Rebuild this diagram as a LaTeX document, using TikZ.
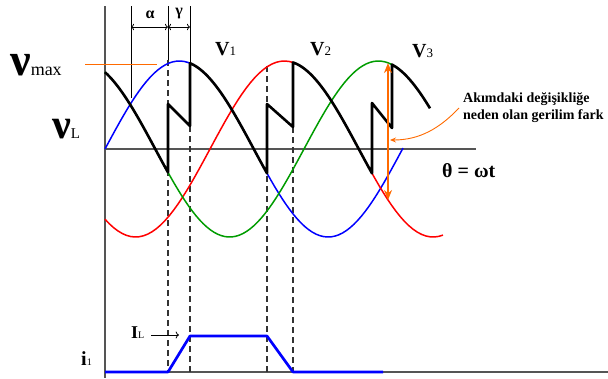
\documentclass[tikz,border=0pt]{standalone}
\usepackage{fontspec}
\setmainfont{Liberation Serif}
\usetikzlibrary{arrows.meta}
\definecolor{axisgray}{HTML}{555555}
\definecolor{vorange}{HTML}{FF6A00}
\definecolor{vgreen}{HTML}{009C00}
\tikzset{
  axis/.style={draw=axisgray, line width=1.3pt},
  guide/.style={draw=black!80, line width=1.2pt, dash pattern=on 6pt off 4pt},
  phase/.style={line width=1.5pt, samples=80},
  vout/.style={line width=2.6pt, line join=round},
  lbl/.style={anchor=base west, inner sep=0pt, font=\bfseries\fontsize{20}{20}\selectfont},
  note/.style={anchor=west, inner sep=0pt, align=left, font=\bfseries\fontsize{14}{17}\selectfont},
}
\begin{document}
\begin{tikzpicture}[x=1pt, y=-1pt,
    declare function={vb(\x)=149-88*sin((\x-105)*1.21);
                      vr(\x)=149-88*sin((\x-210)*1.21);
                      vg(\x)=149-88*sin((\x-304)*1.21);}]
    \useasboundingbox (0,0) rectangle (608,378);
    \coordinate (o) at (105,149);
    \coordinate (top) at (105,6);
    \coordinate (bot) at (105,378);
    \coordinate (thend) at (476,149);
    \coordinate (base) at (105,372);
    \coordinate (baseend) at (608,372);
    \draw[axis] (top) -- (bot);
    \draw[axis] (o) -- (thend);
    \draw[axis] (base) -- (baseend);
    \draw[line width=0.9pt] (131,6) -- (131,98);
    \draw[line width=0.9pt] (168,6) -- (168,60);
    \draw[line width=0.9pt] (190,6) -- (190,63);
    \draw[guide] (168,60) -- (168,372);
    \draw[guide] (190,126) -- (190,372);
    \draw[guide] (267,66) -- (267,372);
    \draw[guide] (293,127) -- (293,372);
    \coordinate (al) at (131,27);
    \coordinate (am) at (168,27);
    \coordinate (ar) at (190,27);
    \draw[{To[length=3pt]}-{To[length=3pt]}, line width=0.8pt] (al) -- (am);
    \draw[{To[length=3pt]}-{To[length=3pt]}, line width=0.8pt] (am) -- (ar);
    \node[inner sep=0pt, font=\bfseries\fontsize{16}{16}\selectfont] (alpha) at (150,15) {α};
    \node[inner sep=0pt, font=\bfseries\fontsize{16}{16}\selectfont] (gamma) at (179,14) {γ};
    \draw[phase, blue] plot[domain=105:403] (\x,{vb(\x)});
    \draw[phase, red] plot[domain=105:443] (\x,{vr(\x)});
    \draw[phase, vgreen] plot[domain=105:392] (\x,{vg(\x)});
    \draw[vout] plot[domain=105:168, samples=30] (\x,{vg(\x)}) -- (168,104) -- (190,126)
        -- plot[domain=190:267, samples=40] (\x,{vb(\x)}) -- (267,104) -- (293,127)
        -- plot[domain=293:372, samples=40] (\x,{vr(\x)}) -- (372,103) -- (392,128)
        -- plot[domain=392:430, samples=20] (\x,{vg(\x)});
    \coordinate (mx1) at (85,64);
    \coordinate (mx2) at (157,64);
    \draw[vorange, line width=1pt] (mx1) -- (mx2);
    \coordinate (dtop) at (388,63);
    \coordinate (dbot) at (388,200);
    \draw[vorange, line width=2.5pt, {Stealth[length=10pt,width=8pt]}-{Stealth[length=10pt,width=8pt]}] (dtop) -- (dbot);
    \node[note] (fark) at (463,108) {Akımdaki değişikliğe\\neden olan gerilim fark};
    \coordinate (hit) at (390,140);
    \draw[vorange, line width=0.9pt, -{Stealth[length=6pt,width=5pt]}] ([xshift=-4pt]fark.west) .. controls (440,128) and (420,140) .. (hit);
    \node[lbl] (vmaxl) at (10,75) {\fontsize{46}{46}\selectfont ν\fontsize{18}{18}\mdseries\selectfont max};
    \node[lbl] (vll) at (52,138) {\fontsize{42}{42}\selectfont ν\fontsize{15}{15}\mdseries\selectfont L};
    \node[lbl] (v1) at (215,55) {V\fontsize{13}{13}\mdseries\selectfont 1};
    \node[lbl] (v2) at (310,55) {V\fontsize{13}{13}\mdseries\selectfont 2};
    \node[lbl] (v3) at (412,57) {V\fontsize{13}{13}\mdseries\selectfont 3};
    \node[lbl] (theta) at (442,177) {θ = ωt};
    \draw[blue, line width=2.7pt, line join=round] (base) -- (168,372) -- (190,336) -- (267,336) -- (293,372) -- (383,372);
    \node[lbl, font=\bfseries\fontsize{18}{18}\selectfont] (il) at (131,338) {I\fontsize{10}{10}\mdseries\selectfont L};
    \coordinate (il1) at (151,335);
    \coordinate (il2) at (179,335);
    \draw[->, line width=0.8pt] (il1) -- (il2);
    \node[lbl] (i1) at (81,365) {i\fontsize{10}{10}\mdseries\selectfont 1};
\end{tikzpicture}
\end{document}
